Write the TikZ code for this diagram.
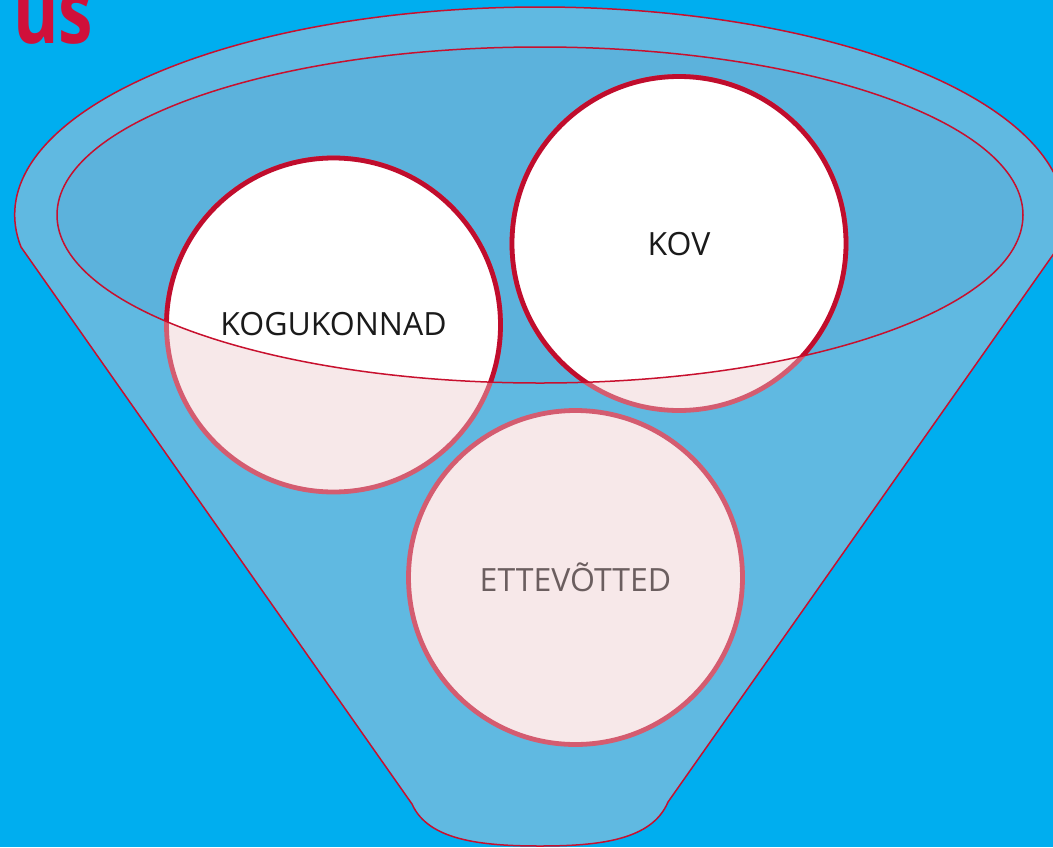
\documentclass[tikz,border=0pt]{standalone}
\usepackage{fontspec}
\setmainfont{Open Sans}
\usetikzlibrary{calc}
\definecolor{bgblue}{HTML}{00AEEF}
\definecolor{funnelblue}{HTML}{60B9E1}
\definecolor{innerblue}{HTML}{5CB2DC}
\definecolor{linered}{HTML}{C8102E}
\definecolor{darkred}{HTML}{C00D2D}
\definecolor{pinkfill}{HTML}{F7E8E9}
\definecolor{pinkborder}{HTML}{D45C70}
\definecolor{titlered}{HTML}{D0103A}
\definecolor{greytext}{HTML}{6B5E5F}
\definecolor{blacktext}{HTML}{1A1A1A}
\tikzset{
  outline/.style={draw=linered, line width=1.5pt},
  circpink/.style={fill=pinkfill, draw=pinkborder, line width=4.8pt},
  circwhite/.style={fill=white, draw=darkred, line width=4.8pt},
  lbl/.style={font=\fontsize{32}{36}\selectfont, inner sep=0pt},
}
\begin{document}
\begin{tikzpicture}[x=1pt,y=-1pt]
\useasboundingbox (0,0) rectangle (1053,847);
\fill[bgblue] (0,0) rectangle (1053,847);
% funnel
\coordinate (fl) at (21,247);
\coordinate (fr) at (1059,247);
\coordinate (bl) at (412,804);
\coordinate (br) at (668,802);
\coordinate (bb) at (540,846);
\path[fill=funnelblue, outline] (fl) arc[start angle=171.15, end angle=368.85, x radius=525, y radius=208]
  -- (br) .. controls (652,840) and (600,846) .. (bb) .. controls (480,846) and (428,840) .. (bl) -- cycle;
% inner ellipse
\coordinate (ec) at (540,215);
\fill[innerblue] (ec) ellipse[x radius=483, y radius=168];
% circles
\coordinate (c1) at (333.5,325);
\coordinate (c2) at (679,243.5);
\coordinate (c3) at (575.5,577.5);
\foreach \c in {c1,c2,c3} \path[circpink] (\c) circle[radius=167];
\begin{scope}
  \clip (ec) ellipse[x radius=483, y radius=168];
  \foreach \c in {c1,c2} \path[circwhite] (\c) circle[radius=167];
\end{scope}
\draw[outline] (ec) ellipse[x radius=483, y radius=168];
% labels
\node[lbl, text=blacktext] (kog) at (333.5,324) {KOGUKONNAD};
\node[lbl, text=blacktext] (kov) at (679,244) {KOV};
\node[lbl, text=greytext] (ett) at (575.5,577) {ETTEVÕTTED};
\node[anchor=base west, inner sep=0pt, text=titlered, font=\bfseries\fontsize{90}{92}\selectfont] (title) at (13,43) {\scalebox{0.77}[1]{us}};
\end{tikzpicture}
\end{document}
